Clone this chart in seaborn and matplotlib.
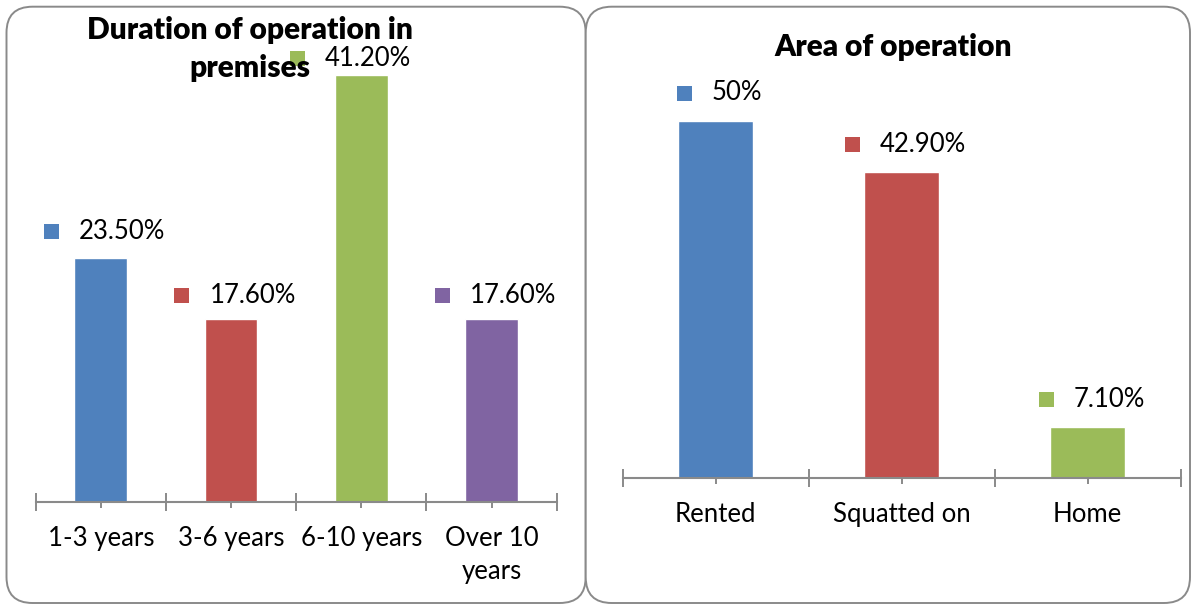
import numpy as np
import pandas as pd
import matplotlib
matplotlib.use("Agg")
import matplotlib.pyplot as plt
import seaborn as sns
from matplotlib.patches import FancyBboxPatch
from matplotlib.transforms import offset_copy

# ---------------- data ----------------
duration_cats = ["1-3 years", "3-6 years", "6-10 years", "Over 10\nyears"]
duration_vals = [23.5, 17.6, 41.2, 17.6]
duration_labels = ["23.50%", "17.60%", "41.20%", "17.60%"]

area_cats = ["Rented", "Squatted on", "Home"]
area_vals = [50.0, 42.9, 7.1]
area_labels = ["50%", "42.90%", "7.10%"]

# ---------------- styles ----------------
duration_colors = ["#4F81BD", "#C0504D", "#9BBB59", "#8064A2"]
area_colors = ["#4F81BD", "#C0504D", "#9BBB59"]
duration_label_dy = [27, 24.5, 17, 24.5]      # px above bar top
duration_label_dx = [0, 0, -15, 0]            # extra px shift
area_label_dy = [28.5, 27.5, 28.5]
area_label_dx = [0, 0, 0]

GRAY = "#8A8A8A"
W, H = 1192, 604
FS = 18.5
TFS = 21.5

sns.set_theme(style="white")
plt.rcParams["font.family"] = ["Lato", "DejaVu Sans"]

fig = plt.figure(figsize=(W / 100, H / 100), dpi=100)

# background panels
bg = fig.add_axes([0, 0, 1, 1], zorder=0)
bg.set_xlim(0, W)
bg.set_ylim(H, 0)
bg.axis("off")
for (x0, x1) in [(6.5, 585.7), (585.7, 1190)]:
    bg.add_patch(FancyBboxPatch((x0, 6.7), x1 - x0, 596.3,
                                boxstyle="round,pad=0,rounding_size=26",
                                ec=GRAY, fc="white", lw=1.4))


def px_axes(x0, y_base, x1, y_top):
    return [x0 / W, 1 - y_base / H, (x1 - x0) / W, (y_base - y_top) / H]


ax1 = fig.add_axes(px_axes(35.7, 502, 556.7, 502 - 45 * 10.37), zorder=1)
ax2 = fig.add_axes(px_axes(622.7, 478, 1180.7, 478 - 60 * 7.14), zorder=1)


def draw(ax, cats, vals, colors, ymax):
    df = pd.DataFrame({"cat": cats, "val": vals})
    sns.barplot(data=df, x="cat", y="val", hue="cat", palette=colors,
                width=0.405, saturation=1, legend=False, dodge=False, ax=ax)
    ax.set_facecolor("none")
    n = len(cats)
    ax.set_xlim(-0.5, n - 0.5)
    ax.set_ylim(0, ymax)
    ax.set_yticks([])
    ax.set_xlabel("")
    ax.set_ylabel("")
    for s in ["left", "right", "top"]:
        ax.spines[s].set_visible(False)
    ax.spines["bottom"].set_color(GRAY)
    ax.spines["bottom"].set_linewidth(1.5)
    ax.set_xticks(np.arange(-0.5, n), minor=True)
    ax.tick_params(axis="x", which="major", direction="inout", length=9,
                   width=1.4, color=GRAY, labelsize=FS, labelcolor="black", pad=13,
                   bottom=True)
    ax.tick_params(axis="x", which="minor", direction="inout", length=12.5,
                   width=1.4, color=GRAY, bottom=True)
    for t in ax.get_xticklabels():
        t.set_linespacing(1.36)


draw(ax1, duration_cats, duration_vals, duration_colors, 45)
draw(ax2, area_cats, area_vals, area_colors, 60)


def add_labels(ax, vals, labels, colors, dys, dxs):
    texts = []
    for i, (v, lab, dy, dx) in enumerate(zip(vals, labels, dys, dxs)):
        tr = offset_copy(ax.transData, fig=fig, x=21.5 + dx, y=dy - 8, units="dots")
        t = ax.text(i, v, lab, transform=tr, ha="center", va="baseline",
                    fontsize=FS, color="black", clip_on=False)
        texts.append((i, v, t, dy, dx))
    fig.canvas.draw()
    for (i, v, t, dy, dx), c in zip(texts, colors):
        w = t.get_window_extent().width
        trm = offset_copy(ax.transData, fig=fig, x=21.5 + dx - w / 2 - 28,
                          y=dy, units="dots")
        ax.plot([i], [v], marker="s", markersize=10.8, markeredgewidth=0,
                color=c, transform=trm, clip_on=False)


add_labels(ax1, duration_vals, duration_labels, duration_colors,
           duration_label_dy, duration_label_dx)
add_labels(ax2, area_vals, area_labels, area_colors, area_label_dy, area_label_dx)

# titles
fig.text(250 / W, 1 - 39 / H, "Duration of operation in", ha="center",
         va="baseline", fontsize=TFS, fontweight="heavy", color="black")
fig.text(250 / W, 1 - 77 / H, "premises", ha="center", va="baseline",
         fontsize=TFS, fontweight="heavy", color="black")
fig.text(893 / W, 1 - 56 / H, "Area of operation", ha="center",
         va="baseline", fontsize=TFS, fontweight="heavy", color="black")

fig.savefig("out.png", dpi=100)
